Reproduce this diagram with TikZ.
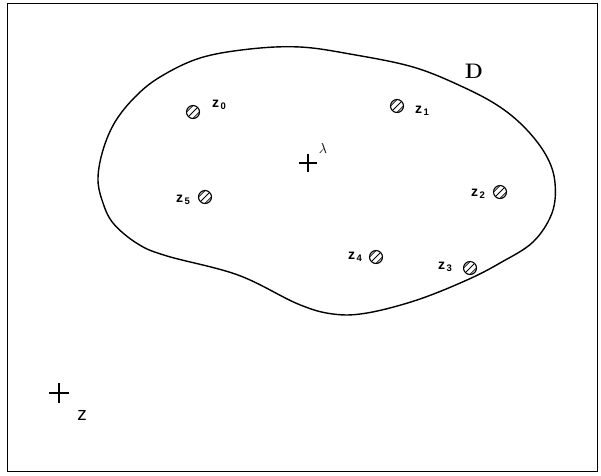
\documentclass[tikz,border=0pt]{standalone}
\usepackage{fontspec}
\setsansfont{Liberation Sans}
\newcommand\zsub[1]{z\hspace{1.6pt}\raisebox{-1.8pt}{\fontsize{9.5}{10}\selectfont #1}}
\begin{document}
\begin{tikzpicture}[x=1pt,y=-1pt,
  hatchpt/.style={circle,draw,line width=1.1pt,minimum size=13pt,inner sep=0pt,
    path picture={\foreach \d in {-3.2,0,3.2}{\draw[line width=0.8pt]
      ([xshift=\d pt,yshift=-\d pt]path picture bounding box.center) ++(-8pt,-8pt) -- ++(16pt,16pt);}}},
  zlab/.style={font=\sffamily\bfseries\fontsize{14}{15}\selectfont,inner sep=0pt},
  crossmark/.style={line width=1.5pt},
  boundary/.style={line width=1.4pt}]
\useasboundingbox (0,0) rectangle (601,475);
\draw[line width=1pt] (7,3) rectangle (597,471);
% region D
\draw[boundary] plot[smooth cycle, tension=0.6] coordinates {
 (300,47) (350,54) (413,67) (463,87) (500,107) (527,130) (547,157) (555,183)
 (552,213) (533,242) (500,263) (467,280) (417,300) (367,313) (333,314)
 (298,304) (238,275) (167,256) (138,244) (113,223) (102,200)
 (98,178) (103,150) (115,122) (135,97) (160,77) (200,58) (250,49)};
\node[font=\bfseries\fontsize{21}{23}\selectfont,inner sep=0pt] (D) at (474,71) {D};
% points
\node[hatchpt] (z0) at (193,112) {};
\node[zlab] (z0l) at (219,105) {\zsub{0}};
\node[hatchpt] (z1) at (397,106) {};
\node[zlab] (z1l) at (422,111) {\zsub{1}};
\node[hatchpt] (z2) at (500,192) {};
\node[zlab] (z2l) at (478,194) {\zsub{2}};
\node[hatchpt] (z3) at (470,268) {};
\node[zlab] (z3l) at (445,267) {\zsub{3}};
\node[hatchpt] (z4) at (376,257) {};
\node[zlab] (z4l) at (355,257) {\zsub{4}};
\node[hatchpt] (z5) at (205,197) {};
\node[zlab] (z5l) at (183,200) {\zsub{5}};
% lambda
\coordinate (lam) at (308,163);
\draw[crossmark] ([xshift=-9pt]lam) -- ([xshift=9pt]lam);
\draw[crossmark] ([yshift=-9pt]lam) -- ([yshift=9pt]lam);
\node[font=\fontsize{15}{16}\selectfont,inner sep=0pt] (laml) at (323,148) {$\lambda$};
% z
\coordinate (zp) at (59,393);
\draw[crossmark] ([xshift=-10pt]zp) -- ([xshift=10pt]zp);
\draw[crossmark] ([yshift=-10pt]zp) -- ([yshift=10pt]zp);
\node[font=\sffamily\fontsize{19}{20}\selectfont,inner sep=0pt] (zl) at (82,415) {z};
\end{tikzpicture}
\end{document}
